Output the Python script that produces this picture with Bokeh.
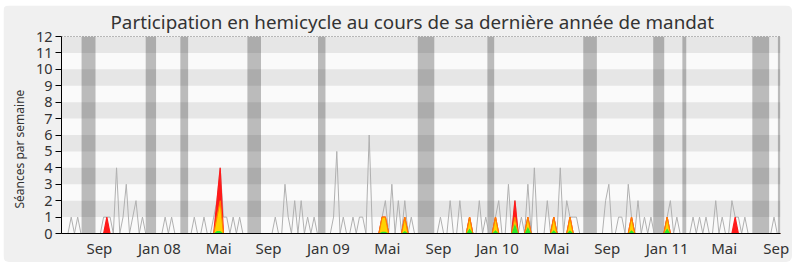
from bokeh.plotting import figure
from bokeh.models import Range1d, FixedTicker, Span, BoxAnnotation, Title
from bokeh.embed import file_html
from bokeh.resources import INLINE

# ---------------- data (weekly, week index 0..222) ----------------
weeks = list(range(223))

sessions = [
    0, 0, 0, 1, 0, 1, 0, 0, 0, 0,
    0, 0, 0, 1, 1, 1, 0, 4, 0, 1,
    3, 0, 1, 2, 0, 1, 0, 0, 0, 0,
    0, 0, 1, 0, 1, 0, 0, 0, 0, 0,
    0, 1, 0, 0, 1, 0, 0, 1, 2, 4,
    1, 1, 0, 1, 0, 1, 0, 0, 0, 0,
    0, 0, 0, 0, 0, 0, 1, 0, 0, 3,
    1, 0, 2, 0, 2, 0, 1, 0, 1, 0,
    0, 0, 0, 0, 1, 5, 0, 1, 0, 0,
    1, 0, 1, 1, 0, 6, 0, 0, 0, 1,
    2, 0, 3, 0, 2, 0, 2, 0, 1, 0,
    0, 0, 0, 0, 0, 0, 0, 1, 0, 0,
    2, 0, 0, 2, 0, 0, 1, 0, 0, 2,
    0, 1, 0, 0, 1, 2, 0, 0, 3, 0,
    2, 0, 1, 0, 3, 0, 4, 0, 0, 0,
    2, 0, 1, 0, 4, 0, 2, 1, 1, 1,
    0, 0, 0, 0, 0, 0, 0, 0, 2, 3,
    0, 0, 1, 1, 0, 3, 1, 0, 2, 0,
    1, 0, 1, 0, 0, 0, 0, 1, 2, 0,
    1, 0, 0, 0, 0, 1, 0, 1, 0, 1,
    0, 0, 2, 0, 1, 0, 0, 2, 1, 1,
    0, 1, 0, 0, 0, 0, 0, 0, 0, 0,
    1, 0, 0,
]

presence = [
    0, 0, 0, 0, 0, 0, 0, 0, 0, 0,
    0, 0, 0, 0, 1, 0, 0, 0, 0, 0,
    0, 0, 0, 0, 0, 0, 0, 0, 0, 0,
    0, 0, 0, 0, 0, 0, 0, 0, 0, 0,
    0, 0, 0, 0, 0, 0, 0, 0, 2, 4,
    0, 0, 0, 0, 0, 0, 0, 0, 0, 0,
    0, 0, 0, 0, 0, 0, 0, 0, 0, 0,
    0, 0, 0, 0, 0, 0, 0, 0, 0, 0,
    0, 0, 0, 0, 0, 0, 0, 0, 0, 0,
    0, 0, 0, 0, 0, 0, 0, 0, 0, 1,
    1, 0, 0, 0, 0, 0, 1, 0, 0, 0,
    0, 0, 0, 0, 0, 0, 0, 0, 0, 0,
    0, 0, 0, 0, 0, 0, 1, 0, 0, 0,
    0, 0, 0, 0, 1, 0, 0, 0, 0, 0,
    2, 0, 0, 0, 1, 0, 0, 0, 0, 0,
    0, 0, 1, 0, 0, 0, 0, 1, 0, 0,
    0, 0, 0, 0, 0, 0, 0, 0, 0, 0,
    0, 0, 0, 0, 0, 0, 1, 0, 0, 0,
    0, 0, 0, 0, 0, 0, 0, 1, 0, 0,
    0, 0, 0, 0, 0, 0, 0, 0, 0, 0,
    0, 0, 0, 0, 0, 0, 0, 0, 1, 0,
    0, 0, 0, 0, 0, 0, 0, 0, 0, 0,
    0, 0, 0,
]

participation = [
    0, 0, 0, 0, 0, 0, 0, 0, 0, 0,
    0, 0, 0, 0, 0, 0, 0, 0, 0, 0,
    0, 0, 0, 0, 0, 0, 0, 0, 0, 0,
    0, 0, 0, 0, 0, 0, 0, 0, 0, 0,
    0, 0, 0, 0, 0, 0, 0, 0, 1, 2,
    0, 0, 0, 0, 0, 0, 0, 0, 0, 0,
    0, 0, 0, 0, 0, 0, 0, 0, 0, 0,
    0, 0, 0, 0, 0, 0, 0, 0, 0, 0,
    0, 0, 0, 0, 0, 0, 0, 0, 0, 0,
    0, 0, 0, 0, 0, 0, 0, 0, 0, 1,
    1, 0, 0, 0, 0, 0, 1, 0, 0, 0,
    0, 0, 0, 0, 0, 0, 0, 0, 0, 0,
    0, 0, 0, 0, 0, 0, 1, 0, 0, 0,
    0, 0, 0, 0, 1, 0, 0, 0, 0, 0,
    1, 0, 0, 0, 1, 0, 0, 0, 0, 0,
    0, 0, 1, 0, 0, 0, 0, 1, 0, 0,
    0, 0, 0, 0, 0, 0, 0, 0, 0, 0,
    0, 0, 0, 0, 0, 0, 1, 0, 0, 0,
    0, 0, 0, 0, 0, 0, 0, 1, 0, 0,
    0, 0, 0, 0, 0, 0, 0, 0, 0, 0,
    0, 0, 0, 0, 0, 0, 0, 0, 0, 0,
    0, 0, 0, 0, 0, 0, 0, 0, 0, 0,
    0, 0, 0,
]

interventions = [
    0, 0, 0, 0, 0, 0, 0, 0, 0, 0,
    0, 0, 0, 0, 0, 0, 0, 0, 0, 0,
    0, 0, 0, 0, 0, 0, 0, 0, 0, 0,
    0, 0, 0, 0, 0, 0, 0, 0, 0, 0,
    0, 0, 0, 0, 0, 0, 0, 0, 0.15, 0.15,
    0, 0, 0, 0, 0, 0, 0, 0, 0, 0,
    0, 0, 0, 0, 0, 0, 0, 0, 0, 0,
    0, 0, 0, 0, 0, 0, 0, 0, 0, 0,
    0, 0, 0, 0, 0, 0, 0, 0, 0, 0,
    0, 0, 0, 0, 0, 0, 0, 0, 0, 0.1,
    0.1, 0, 0, 0, 0, 0, 0.15, 0, 0, 0,
    0, 0, 0, 0, 0, 0, 0, 0, 0, 0,
    0, 0, 0, 0, 0, 0, 0.3, 0, 0, 0,
    0, 0, 0, 0, 0.2, 0, 0, 0, 0, 0,
    0.6, 0, 0, 0, 0.4, 0, 0, 0, 0, 0,
    0, 0, 0.2, 0, 0, 0, 0, 0.2, 0, 0,
    0, 0, 0, 0, 0, 0, 0, 0, 0, 0,
    0, 0, 0, 0, 0, 0, 0.2, 0, 0, 0,
    0, 0, 0, 0, 0, 0, 0, 0.3, 0, 0,
    0, 0, 0, 0, 0, 0, 0, 0, 0, 0,
    0, 0, 0, 0, 0, 0, 0, 0, 0, 0,
    0, 0, 0, 0, 0, 0, 0, 0, 0, 0,
    0, 0, 0,
]

# parliamentary holidays (in week units)
vacation_start = [6.2, 26.0, 36.7, 57.4, 79.2, 110.0, 131.5, 161.1, 182.7, 191.7, 213.3, 221.2]
vacation_end = [10.5, 29.2, 39.1, 61.6, 81.5, 115.1, 133.6, 165.3, 186.1, 192.9, 218.5, 222.0]

month_ticks = [11.7, 30.2, 48.5, 63.9, 82.4, 100.6, 116.4, 134.6, 152.8, 168.5, 187.0, 204.6, 220.7]
month_labels = ["Sep", "Jan 08", "Mai", "Sep", "Jan 09", "Mai", "Sep", "Jan 10", "Mai",
                "Sep", "Jan 11", "Mai", "Sep"]
y_ticks = list(range(0, 13))

title_text = "Participation en hemicycle au cours de sa dernière année de mandat"
y_label_text = "Séances par semaine"

FONT = "Noto Sans"
TXT = "#333333"

# ---------------- figure ----------------
p = figure(
    frame_width=719, frame_height=197,
    min_border_left=58, min_border_right=12, min_border_top=31, min_border_bottom=29,
    x_range=Range1d(0, 222), y_range=Range1d(0, 12),
    output_backend="svg", toolbar_location=None,
    margin=(5, 8, 5, 3),
    styles={"border-radius": "6px", "overflow": "hidden"},
)
p.border_fill_color = "#f0f0f0"
p.background_fill_color = "#fafafa"
p.outline_line_color = None
p.grid.visible = False

for k in range(1, 12, 2):
    p.add_layout(BoxAnnotation(bottom=k, top=k + 1, fill_color="#e6e6e6", fill_alpha=1.0,
                               line_color=None, level="underlay"))

p.quad(left=vacation_start, right=vacation_end, bottom=0, top=12,
       fill_color="black", fill_alpha=0.25, line_color=None)

p.line(weeks, sessions, line_color="#b0b0b0", line_width=1)

p.varea(x=weeks, y1=[0] * len(weeks), y2=presence, fill_color="#ff1a1a")
p.line(weeks, presence, line_color="#ff1a1a", line_width=1.2)
p.varea(x=weeks, y1=[0] * len(weeks), y2=participation, fill_color="#ffd200")
p.line(weeks, participation, line_color="#ff8000", line_width=1.2)
p.varea(x=weeks, y1=[0] * len(weeks), y2=interventions, fill_color="#2ee82e")

p.add_layout(Span(location=12, dimension="width", line_color="black",
                  line_dash="1 2", line_width=1))

# axes
ya = p.yaxis[0]
ya.ticker = FixedTicker(ticks=y_ticks)
ya.minor_tick_line_color = None
ya.major_tick_out = 6
ya.major_tick_in = 0
ya.axis_line_color = "black"
ya.major_tick_line_color = "black"
ya.major_label_text_font = FONT
ya.major_label_text_font_size = "14.5px"
ya.major_label_text_color = TXT
ya.major_label_standoff = 3

xa = p.xaxis[0]
xa.ticker = FixedTicker(ticks=month_ticks)
xa.major_label_overrides = {t: l for t, l in zip(month_ticks, month_labels)}
xa.minor_tick_line_color = None
xa.major_tick_out = 0
xa.major_tick_in = 0
xa.axis_line_color = "black"
xa.major_label_text_font = FONT
xa.major_label_text_font_size = "15px"
xa.major_label_text_color = TXT
xa.major_label_standoff = 4

# title
p.title.text = title_text
p.title.align = "left"
p.title.offset = 49
p.title.standoff = 3
p.title.text_font = FONT
p.title.text_font_size = "18.8px"
p.title.text_font_style = "normal"
p.title.text_color = TXT

# y axis caption, shifted down like the reference
p.add_layout(Title(text=y_label_text, align="left", offset=25, standoff=10,
                   text_font=FONT, text_font_size="12px", text_font_style="normal",
                   text_color=TXT), "left")

open("out.html", "w").write(file_html(p, INLINE))
